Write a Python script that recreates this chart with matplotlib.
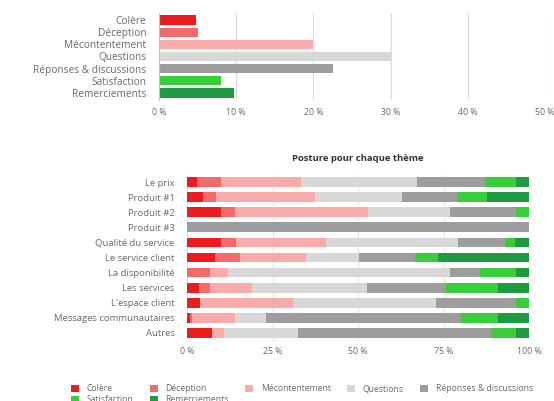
import matplotlib
matplotlib.use("Agg")
import matplotlib.pyplot as plt
import numpy as np

plt.rcParams['font.family'] = ['Open Sans', 'DejaVu Sans']

postures = ["Colère", "Déception", "Mécontentement", "Questions",
            "Réponses & discussions", "Satisfaction", "Remerciements"]
colors = ["#ec1c1c", "#f26a6a", "#f8abab", "#d8d8d8", "#9d9d9d", "#36cf3a", "#1f9a40"]
overall = [4.8, 5.1, 19.9, 30.0, 22.6, 8.0, 9.7]

themes = ["Le prix", "Produit #1", "Produit #2", "Produit #3", "Qualité du service",
          "Le service client", "La disponibilité", "Les services", "L'espace client",
          "Messages communautaires", "Autres"]
# shares per theme, order: Colère, Déception, Mécontentement, Questions, Réponses, Satisfaction, Remerciements
colere        = [3.0, 4.7, 10.0, 0.0, 10.0, 8.3, 0.0, 3.5, 3.9, 0.8, 7.4]
deception     = [6.8, 3.7, 3.9, 0.0, 4.2, 7.1, 6.8, 3.1, 0.0, 0.7, 0.0]
mecontent     = [23.6, 28.9, 39.0, 0.0, 26.5, 19.3, 5.2, 12.5, 27.1, 12.4, 3.3]
questions     = [33.9, 25.6, 23.9, 0.0, 38.5, 15.6, 64.8, 33.6, 41.9, 9.3, 21.8]
reponses      = [19.7, 16.1, 19.5, 100.0, 13.9, 16.3, 8.8, 23.1, 23.4, 57.0, 56.5]
satisfaction  = [9.3, 8.8, 3.7, 0.0, 2.9, 6.8, 10.7, 15.1, 3.7, 10.7, 7.3]
remerciements = [3.7, 12.2, 0.0, 0.0, 4.0, 26.6, 3.7, 9.1, 0.0, 9.1, 3.7]

top_ticks = [0, 10, 20, 30, 40, 50]
bottom_ticks = [0, 25, 50, 75, 100]

txt = "#6a6a6a"
grid = "#dcdcdc"

fig = plt.figure(figsize=(5.54, 4.01), dpi=100)

# ---- top chart
ax1 = fig.add_axes([159/554, 1-100/401, 386/554, 87/401])
y1 = np.arange(len(postures))
ax1.barh(y1, overall, height=0.8, color=colors, zorder=2)
ax1.set_xlim(0, 50)
ax1.set_ylim(len(postures)-0.4, -0.6)
ax1.set_yticks(y1)
ax1.set_yticklabels(postures)
ax1.set_xticks(top_ticks)
ax1.set_xticklabels([f"{t} %" for t in top_ticks])
ax1.xaxis.grid(True, color=grid, linewidth=0.8, zorder=0)
for s in ["top", "right", "bottom"]:
    ax1.spines[s].set_visible(False)
ax1.spines["left"].set_color("#c4c4c4")
ax1.spines["left"].set_linewidth(0.8)
ax1.tick_params(axis="y", length=0, labelsize=7.3, labelcolor=txt, pad=9)
ax1.tick_params(axis="x", length=0, labelsize=6.3, labelcolor=txt, pad=6)

# ---- bottom chart
ax2 = fig.add_axes([187/554, 1-340.5/401, 342/554, 166/401])
series = [colere, deception, mecontent, questions, reponses, satisfaction, remerciements]
y2 = np.arange(len(themes))
left = np.zeros(len(themes))
handles = {}
for name, vals, c in zip(postures, series, colors):
    vals = np.array(vals)
    b = ax2.barh(y2, vals, left=left, height=0.64, color=c, label=name, zorder=2)
    handles[name] = b
    left += vals
ax2.set_xlim(0, 100)
ax2.set_ylim(len(themes)-0.5, -0.5)
ax2.set_yticks(y2)
ax2.set_yticklabels(themes)
ax2.set_xticks(bottom_ticks)
ax2.set_xticklabels([f"{t} %" for t in bottom_ticks])
ax2.xaxis.grid(True, color="#c8c8c8", linewidth=0.6, alpha=0.6, zorder=3)
for s in ["top", "right", "bottom", "left"]:
    ax2.spines[s].set_visible(False)
ax2.tick_params(axis="y", length=0, labelsize=6.8, labelcolor=txt, pad=9)
ax2.tick_params(axis="x", length=0, labelsize=6.3, labelcolor=txt, pad=5)
ax2.set_title("Posture pour chaque thème", fontsize=6.8, fontweight="bold",
              color="#333333", pad=10)

# legend filled row by row (matplotlib fills column-wise)
order = ["Colère", "Satisfaction", "Déception", "Remerciements",
         "Mécontentement", "Questions", "Réponses & discussions"]
leg = fig.legend([handles[n] for n in order], order, ncol=5, loc="upper left",
                 bbox_to_anchor=(68/554, 1-381/401), frameon=False,
                 fontsize=6.2, handlelength=0.9, handleheight=0.9,
                 columnspacing=1.9, handletextpad=0.9, labelspacing=0.2,
                 borderaxespad=0)
for t in leg.get_texts():
    t.set_color(txt)

fig.savefig("out.png", dpi=100)
